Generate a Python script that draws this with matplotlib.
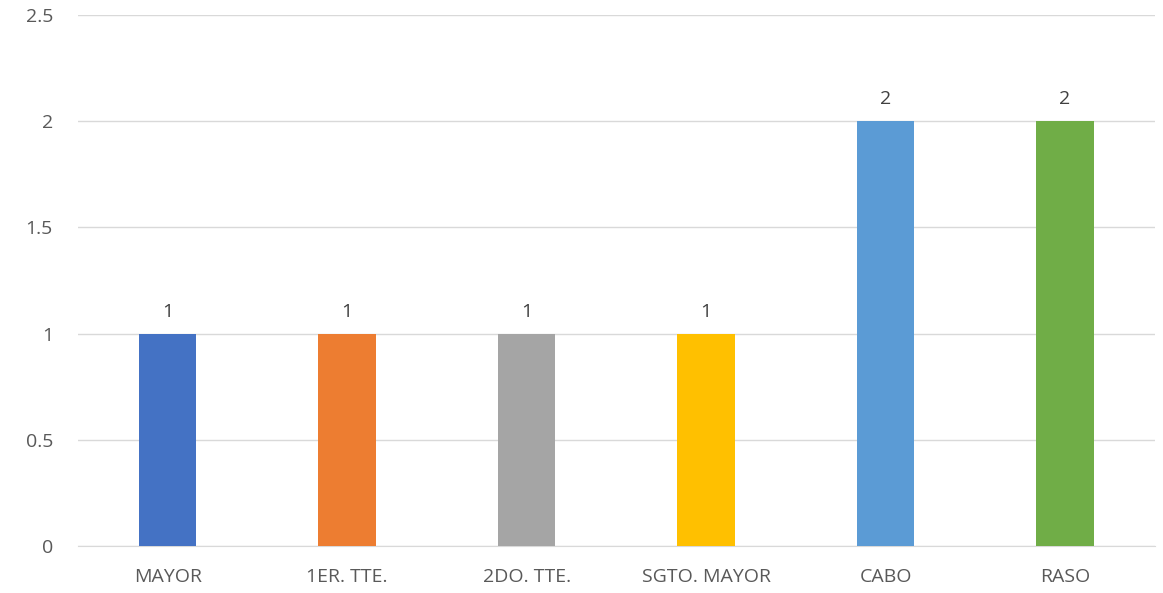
import matplotlib; matplotlib.use("Agg")
import matplotlib.pyplot as plt

categories = ["MAYOR", "1ER. TTE.", "2DO. TTE.", "SGTO. MAYOR", "CABO", "RASO"]
values = [1, 1, 1, 1, 2, 2]
colors = ["#4472C4", "#ED7D31", "#A5A5A5", "#FFC000", "#5B9BD5", "#70AD47"]
yticks = [0, 0.5, 1, 1.5, 2, 2.5]
ytick_labels = ["0", "0.5", "1", "1.5", "2", "2.5"]

plt.rcParams["font.family"] = ["Open Sans", "DejaVu Sans"]
fig = plt.figure(figsize=(11.63, 5.93), dpi=100)
ax = fig.add_axes([0.067, 0.079, 0.926, 0.896])

x = range(len(categories))
bars = ax.bar(x, values, width=0.32, color=colors, zorder=3)
for b, v in zip(bars, values):
    ax.text(b.get_x() + b.get_width() / 2, v + 0.06, f"{v}", ha="center", va="bottom",
            fontsize=14, color="#404040")

ax.set_xlim(-0.5, len(categories) - 0.5)
ax.set_ylim(0, 2.5)
ax.set_yticks(yticks)
ax.set_yticklabels(ytick_labels)
ax.set_xticks(list(x))
ax.set_xticklabels(categories)
ax.tick_params(axis="both", length=0, labelsize=14, colors="#595959")
ax.tick_params(axis="x", pad=16)
ax.tick_params(axis="y", pad=18)
ax.grid(axis="y", color="#D9D9D9", linewidth=1, zorder=0)
for s in ["top", "right", "left"]:
    ax.spines[s].set_visible(False)
ax.spines["bottom"].set_color("#D9D9D9")

plt.savefig("out.png", dpi=100)
